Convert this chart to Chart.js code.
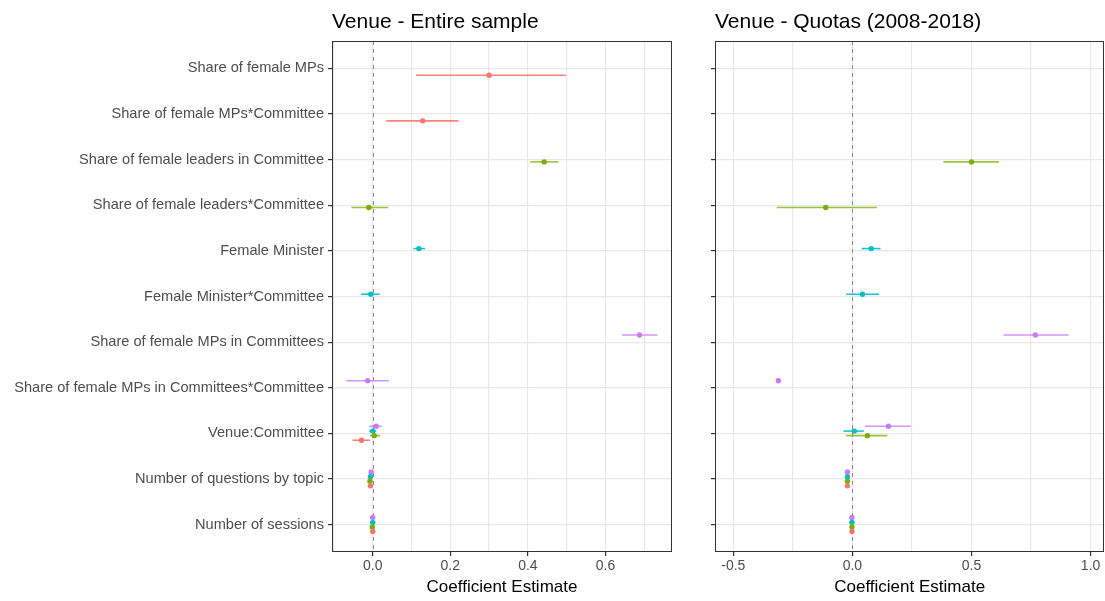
<!DOCTYPE html>
<html><head><meta charset="utf-8">
<script src="https://cdn.jsdelivr.net/npm/chart.js@4.4.0/dist/chart.umd.min.js"></script>
<style>
html,body{margin:0;padding:0;background:#fff;width:1105px;height:601px;overflow:hidden;position:relative;}
canvas{position:absolute;top:0;}
#c1{left:0;} #c2{left:690px;}
</style></head><body>
<canvas id="c1" width="690" height="601"></canvas>
<canvas id="c2" width="417" height="601"></canvas>
<script>
// ---------- DATA ----------
const categories = [
  'Share of female MPs',
  'Share of female MPs*Committee',
  'Share of female leaders in Committee',
  'Share of female leaders*Committee',
  'Female Minister',
  'Female Minister*Committee',
  'Share of female MPs in Committees',
  'Share of female MPs in Committees*Committee',
  'Venue:Committee',
  'Number of questions by topic',
  'Number of sessions'
];
const panelTitles = ['Venue - Entire sample', 'Venue - Quotas (2008-2018)'];
const xAxisTitle = 'Coefficient Estimate';

const entireMajorTicks = [0.0, 0.2, 0.4, 0.6];
const entireMajorLabels = ['0.0', '0.2', '0.4', '0.6'];
const entireMinorTicks = [-0.1, 0.1, 0.3, 0.5, 0.7];
const quotaMajorTicks = [-0.5, 0.0, 0.5, 1.0];
const quotaMajorLabels = ['-0.5', '0.0', '0.5', '1.0'];
const quotaMinorTicks = [-0.25, 0.25, 0.75];

// Panel 1: Entire sample
const entireRedEst    = [0.300, 0.129, null, null, null, null, null, null, -0.029, -0.006, 0.000];
const entireRedLo     = [0.112, 0.035, null, null, null, null, null, null, -0.052, -0.008, -0.002];
const entireRedHi     = [0.498, 0.221, null, null, null, null, null, null, -0.007, -0.004, 0.002];
const entireGreenEst  = [null, null, 0.442, -0.010, null, null, null, null, 0.004, -0.007, -0.001];
const entireGreenLo   = [null, null, 0.406, -0.055, null, null, null, null, -0.007, -0.009, -0.003];
const entireGreenHi   = [null, null, 0.479, 0.040, null, null, null, null, 0.019, -0.005, 0.001];
const entireCyanEst   = [null, null, null, null, 0.119, -0.005, null, null, 0.000, -0.006, 0.000];
const entireCyanLo    = [null, null, null, null, 0.105, -0.030, null, null, -0.009, -0.008, -0.002];
const entireCyanHi    = [null, null, null, null, 0.135, 0.018, null, null, 0.009, -0.004, 0.002];
const entirePurpleEst = [null, null, null, null, null, null, 0.688, -0.013, 0.009, -0.004, 0.000];
const entirePurpleLo  = [null, null, null, null, null, null, 0.643, -0.068, -0.009, -0.006, -0.002];
const entirePurpleHi  = [null, null, null, null, null, null, 0.734, 0.042, 0.023, -0.002, 0.002];

// Panel 2: Quotas (2008-2018)
const quotaRedEst    = [null, null, null, null, null, null, null, null, null, -0.021, -0.002];
const quotaRedLo     = [null, null, null, null, null, null, null, null, null, -0.024, -0.004];
const quotaRedHi     = [null, null, null, null, null, null, null, null, null, -0.018, 0.000];
const quotaGreenEst  = [null, null, 0.500, -0.112, null, null, null, null, 0.063, -0.021, -0.002];
const quotaGreenLo   = [null, null, 0.382, -0.318, null, null, null, null, -0.026, -0.024, -0.004];
const quotaGreenHi   = [null, null, 0.615, 0.103, null, null, null, null, 0.147, -0.018, 0.000];
const quotaCyanEst   = [null, null, null, null, 0.079, 0.042, null, null, 0.008, -0.021, -0.002];
const quotaCyanLo    = [null, null, null, null, 0.039, -0.026, null, null, -0.038, -0.024, -0.004];
const quotaCyanHi    = [null, null, null, null, 0.118, 0.112, null, null, 0.048, -0.018, 0.000];
const quotaPurpleEst = [null, null, null, null, null, null, 0.768, -0.311, 0.151, -0.021, -0.002];
const quotaPurpleLo  = [null, null, null, null, null, null, 0.634, -0.311, 0.053, -0.024, -0.004];
const quotaPurpleHi  = [null, null, null, null, null, null, 0.908, -0.311, 0.245, -0.018, 0.000];

// ---------- STYLE ----------
const FONT = "'Liberation Sans', Arial, sans-serif";
const COLORS = ['#F8766D', '#7CAE00', '#00BFC4', '#C77CFF'];
const LINE_COLORS = ['rgba(248,118,109,0.9)', 'rgba(124,174,0,0.75)', 'rgba(0,191,196,0.9)', 'rgba(199,124,255,0.8)'];
const DODGE = [0.15, 0.05, -0.05, -0.155];

function makeDatasets(series) {
  return series.map((s, k) => ({
    data: s[0].map((v, i) => v == null ? null : { x: v, y: i + DODGE[k], lo: s[1][i], hi: s[2][i] }).filter(Boolean),
    backgroundColor: COLORS[k],
    borderWidth: 0,
    pointRadius: 2.7,
    pointHoverRadius: 2.7
  }));
}

const panelPlugin = {
  id: 'panel',
  beforeDatasetsDraw(chart) {
    const { ctx, chartArea: a, scales: { x, y } } = chart;
    ctx.save();
    const x0 = Math.round(x.getPixelForValue(0)) + 0.5;
    ctx.strokeStyle = '#8A8A8A'; ctx.lineWidth = 1; ctx.setLineDash([4, 4]);
    ctx.beginPath(); ctx.moveTo(x0, a.top); ctx.lineTo(x0, a.bottom); ctx.stroke();
    ctx.setLineDash([]);
    chart.data.datasets.forEach((ds, k) => {
      ctx.strokeStyle = LINE_COLORS[k]; ctx.lineWidth = 1.6;
      ds.data.forEach(p => {
        if (p.lo == null || p.hi == null || p.lo === p.hi) return;
        const py = y.getPixelForValue(p.y);
        ctx.beginPath();
        ctx.moveTo(x.getPixelForValue(p.lo), py);
        ctx.lineTo(x.getPixelForValue(p.hi), py);
        ctx.stroke();
      });
    });
    ctx.restore();
  },
  afterDraw(chart) {
    const { ctx, chartArea: a } = chart;
    ctx.save();
    ctx.strokeStyle = '#333333'; ctx.lineWidth = 1;
    ctx.strokeRect(Math.round(a.left) + 0.5, Math.round(a.top) + 0.5, Math.round(a.right - a.left) - 1, Math.round(a.bottom - a.top) - 1);
    ctx.fillStyle = '#000'; ctx.font = `21px ${FONT}`;
    ctx.textBaseline = 'alphabetic'; ctx.textAlign = 'left';
    ctx.fillText(chart.options.plugins.panel.title, a.left, 28);
    ctx.restore();
  }
};

function makeChart(id, title, series, xmin, xmax, major, majorLabels, minor, showY, yWidth, padRight) {
  const allTicks = [...major, ...minor].sort((a, b) => a - b);
  return new Chart(document.getElementById(id), {
    type: 'scatter',
    data: { datasets: makeDatasets(series) },
    plugins: [panelPlugin],
    options: {
      responsive: false, animation: false,
      layout: { padding: { top: 41, right: padRight, bottom: 0, left: 0 } },
      plugins: { legend: { display: false }, tooltip: { enabled: false }, panel: { title } },
      scales: {
        x: {
          type: 'linear', min: xmin, max: xmax,
          afterBuildTicks: s => { s.ticks = allTicks.map(v => ({ value: v })); },
          afterFit: s => { s.height = 49; s.paddingLeft = 0; s.paddingRight = 0; },
          ticks: {
            autoSkip: false, maxRotation: 0, padding: 2, color: '#4D4D4D',
            font: { family: FONT, size: 14 },
            callback: v => { const i = major.indexOf(v); return i >= 0 ? majorLabels[i] : ''; }
          },
          grid: {
            color: '#E8E8E8', lineWidth: 1.2, tickLength: 4,
            tickColor: c => (c.tick && major.includes(c.tick.value)) ? '#333333' : 'rgba(0,0,0,0)'
          },
          border: { display: false },
          title: { display: true, text: xAxisTitle, color: '#000', font: { family: FONT, size: 17 }, padding: { top: 0, bottom: 3 } }
        },
        y: {
          type: 'linear', reverse: true, min: -0.6, max: 10.6,
          afterBuildTicks: s => { s.ticks = categories.map((_, i) => ({ value: i })); },
          afterFit: s => { s.width = yWidth; s.paddingTop = 0; s.paddingBottom = 0; },
          ticks: {
            autoSkip: false, padding: 4, color: '#4D4D4D',
            font: { family: FONT, size: 14.6 },
            callback: v => showY ? categories[v] : ''
          },
          grid: { color: '#E8E8E8', lineWidth: 1.2, tickLength: 4, tickColor: '#333333' },
          border: { display: false }
        }
      }
    }
  });
}

makeChart('c1', panelTitles[0], [
  [entireRedEst, entireRedLo, entireRedHi],
  [entireGreenEst, entireGreenLo, entireGreenHi],
  [entireCyanEst, entireCyanLo, entireCyanHi],
  [entirePurpleEst, entirePurpleLo, entirePurpleHi]
], -0.105, 0.7716, entireMajorTicks, entireMajorLabels, entireMinorTicks, true, 332, 18);

makeChart('c2', panelTitles[1], [
  [quotaRedEst, quotaRedLo, quotaRedHi],
  [quotaGreenEst, quotaGreenLo, quotaGreenHi],
  [quotaCyanEst, quotaCyanLo, quotaCyanHi],
  [quotaPurpleEst, quotaPurpleLo, quotaPurpleHi]
], -0.577, 1.0576, quotaMajorTicks, quotaMajorLabels, quotaMinorTicks, false, 25, 0);
</script>
</body></html>
